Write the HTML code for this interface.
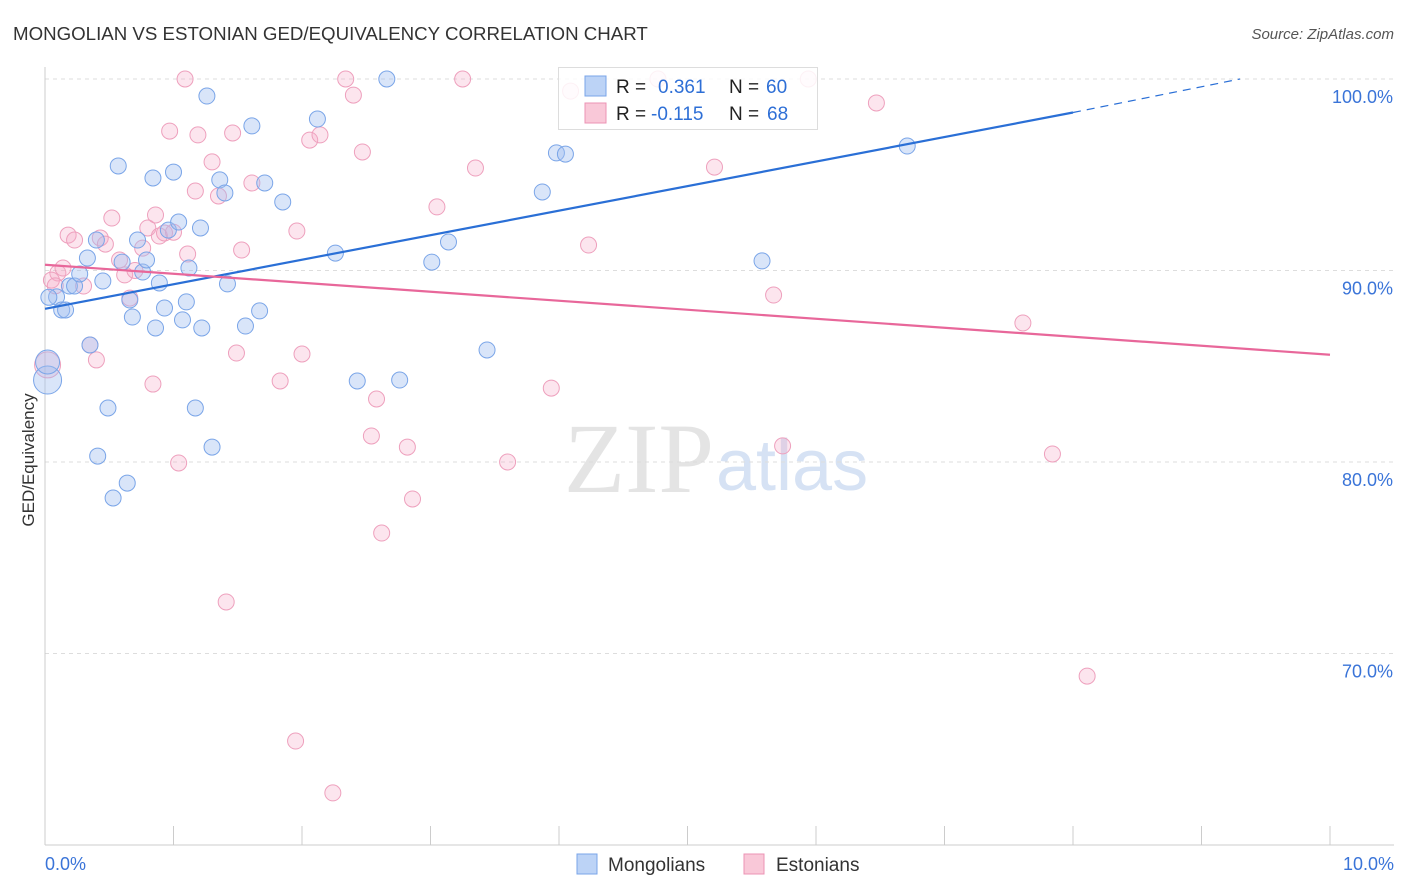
<!DOCTYPE html>
<html><head><meta charset="utf-8">
<style>
body{margin:0;background:#fff;font-family:"Liberation Sans",sans-serif;}
svg{display:block}
</style></head>
<body>
<svg id="chart" width="1406" height="892">
<text x="13" y="40" font-size="18.7" fill="#333">MONGOLIAN VS ESTONIAN GED/EQUIVALENCY CORRELATION CHART</text>
<text x="1394" y="39" font-size="15" fill="#555" text-anchor="end" font-style="italic">Source: ZipAtlas.com</text>
<text x="714" y="492" font-size="100" fill="#e4e4e4" text-anchor="end" font-family="Liberation Serif,serif">ZIP</text>
<text x="716" y="490" font-size="72" fill="#d6e2f4">atlas</text>
<g id="grid"></g>
<g id="axes"></g>
<g id="points"></g>
<g id="trends"></g>
<text transform="translate(34,460) rotate(-90)" font-size="17" fill="#333" text-anchor="middle">GED/Equivalency</text>
<g>
<rect x="558.5" y="67.5" width="259" height="62" fill="rgba(255,255,255,0.85)" stroke="#ddd"/>
<rect x="585" y="76" width="21" height="20" fill="#bcd3f6" stroke="#7aa5e8"/>
<rect x="585" y="103" width="21" height="20" fill="#f9c8d8" stroke="#ec93b4"/>
<text x="616" y="93" font-size="19" fill="#222">R = </text><text x="658" y="93" font-size="19" fill="#2e6fd6">0.361</text>
<text x="729" y="93" font-size="19" fill="#222">N = </text><text x="766" y="93" font-size="19" fill="#2e6fd6">60</text>
<text x="616" y="120" font-size="19" fill="#222">R = </text><text x="651" y="120" font-size="19" fill="#2e6fd6">-0.115</text>
<text x="729" y="120" font-size="19" fill="#222">N = </text><text x="767" y="120" font-size="19" fill="#2e6fd6">68</text>
</g>
<g>
<rect x="577" y="854" width="20" height="20" fill="#bcd3f6" stroke="#7aa5e8"/>
<text x="608" y="871" font-size="19" fill="#333">Mongolians</text>
<rect x="744" y="854" width="20" height="20" fill="#f9c8d8" stroke="#ec93b4"/>
<text x="776" y="871" font-size="19" fill="#333">Estonians</text>
</g>
</svg>
<script>
const yTicks=[100,90,80,70];
const yTickLabels=["100.0%","90.0%","80.0%","70.0%"];
const xTicks=[0,1,2,3,4,5,6,7,8,9,10];
const blueX=[.02,.02,.09,.13,.16,.19,.23,.27,.33,.35,.40,.41,.45,.49,.53,.57,.60,.64,.66,.68,.72,.76,.79,.84,.86,.89,.93,.96,1.00,1.04,1.07,1.10,1.12,1.21,1.22,1.26,1.30,1.17,1.36,1.40,1.42,1.56,1.61,1.67,1.71,1.85,2.12,2.26,2.43,2.66,2.76,3.01,3.14,3.44,3.87,3.98,4.05,5.58,6.71,.03];
const blueY=[84.28,85.22,88.62,87.94,87.94,89.19,89.19,89.82,90.65,86.11,91.59,80.31,89.45,82.82,78.12,95.46,90.44,78.90,88.46,87.57,91.59,89.92,90.55,94.83,87.00,89.35,88.04,92.11,95.14,92.53,87.42,88.36,90.13,92.22,87.00,99.11,80.78,82.82,94.73,94.05,89.30,87.10,97.55,87.89,94.57,93.58,97.91,90.91,84.23,100,84.28,90.44,91.49,85.85,94.10,96.14,96.08,90.50,96.50,88.6];
const blueR=[14,12];
const pinkX=[.02,.10,.14,.18,.23,.30,.35,.40,.43,.47,.52,.58,.62,.66,.76,.80,.84,.86,.89,.93,.97,1.04,1.09,1.11,1.17,1.19,1.30,1.35,1.46,1.49,1.53,1.61,1.41,1.83,1.95,1.96,2.00,2.06,2.14,2.24,2.34,2.40,2.47,2.54,2.58,2.62,2.82,2.86,3.05,3.25,3.35,3.60,3.94,4.09,4.23,4.77,5.21,5.67,5.74,5.94,6.47,7.61,7.84,8.11,.05,.08,.70,1.0];
const pinkY=[85.07,89.87,90.13,91.85,91.59,89.19,86.11,85.33,91.70,91.38,92.74,90.55,89.77,88.56,91.17,92.22,84.07,92.90,91.80,91.96,97.28,79.95,100,90.86,94.15,97.08,95.67,93.89,97.18,85.69,91.07,94.57,72.69,84.23,65.43,92.06,85.64,96.81,97.08,62.72,100,99.16,96.19,81.36,83.29,76.29,80.78,78.07,93.32,100,95.35,80.00,83.86,99.37,91.33,100,95.40,88.72,80.84,100,98.75,87.26,80.42,68.82,89.5,89.2,90.0,92.0];
const blueTrend=[[0,88.0],[8,98.25]];
const blueDash=[[8,98.25],[9.3,100]];
const pinkTrend=[[0,90.3],[10,85.6]];
const NS="http://www.w3.org/2000/svg";
const sx=v=>45+v*128.5;
const sy=v=>79+(100-v)*19.15;
function mk(t,a,p){const e=document.createElementNS(NS,t);for(const k in a)e.setAttribute(k,a[k]);p.appendChild(e);return e;}
const grid=document.getElementById('grid'),axes=document.getElementById('axes');
yTicks.forEach((t,i)=>{
 const l=mk('line',{x1:45,x2:1394,y1:sy(t),y2:sy(t),stroke:'#ddd','stroke-dasharray':'4,4'},grid);
 
 
 const tx=mk('text',{x:1393,y:sy(t)+24,'font-size':18,fill:'#3a74d8','text-anchor':'end'},axes);
 tx.textContent=yTickLabels[i];
 
 
});
const ax=mk('line',{x1:45,x2:1394,y1:845,y2:845,stroke:'#ccc'},axes);


const ay=mk('line',{x1:45,x2:45,y1:67,y2:845,stroke:'#ccc'},axes);


xTicks.forEach(t=>{
 const l=mk('line',{x1:sx(t),x2:sx(t),y1:826,y2:845,stroke:'#ccc'},axes);
 
 
});
[[0,"0.0%","start",45],[10,"10.0%","end",1394]].forEach(d=>{
 const tx=mk('text',{x:d[3],y:870,'font-size':18,fill:'#3a74d8','text-anchor':d[2]},axes);
 tx.textContent=d[1];
 
 
});
const pts=document.getElementById('points');
pinkX.forEach((x,i)=>{
 const c=mk('circle',{cx:sx(x),cy:sy(pinkY[i]),r:i==0?13:8,fill:'rgba(244,170,200,0.3)',stroke:'#eea0bd','stroke-width':1},pts);
 
 
});
blueX.forEach((x,i)=>{
 const c=mk('circle',{cx:sx(x),cy:sy(blueY[i]),r:blueR[i]||8,fill:'rgba(160,190,240,0.4)',stroke:'#7aa5e8','stroke-width':1},pts);
 
 
});
const tr=document.getElementById('trends');
const b=mk('line',{x1:sx(blueTrend[0][0]),y1:sy(blueTrend[0][1]),x2:sx(blueTrend[1][0]),y2:sy(blueTrend[1][1]),stroke:'#2a6fd6','stroke-width':2.2},tr);


const bd=mk('line',{x1:sx(blueDash[0][0]),y1:sy(blueDash[0][1]),x2:sx(blueDash[1][0]),y2:sy(blueDash[1][1]),stroke:'#2a6fd6','stroke-width':1.2,'stroke-dasharray':'8,6'},tr);


const p=mk('line',{x1:sx(pinkTrend[0][0]),y1:sy(pinkTrend[0][1]),x2:sx(pinkTrend[1][0]),y2:sy(pinkTrend[1][1]),stroke:'#e8679a','stroke-width':2.2},tr);


</script>
</body></html>
